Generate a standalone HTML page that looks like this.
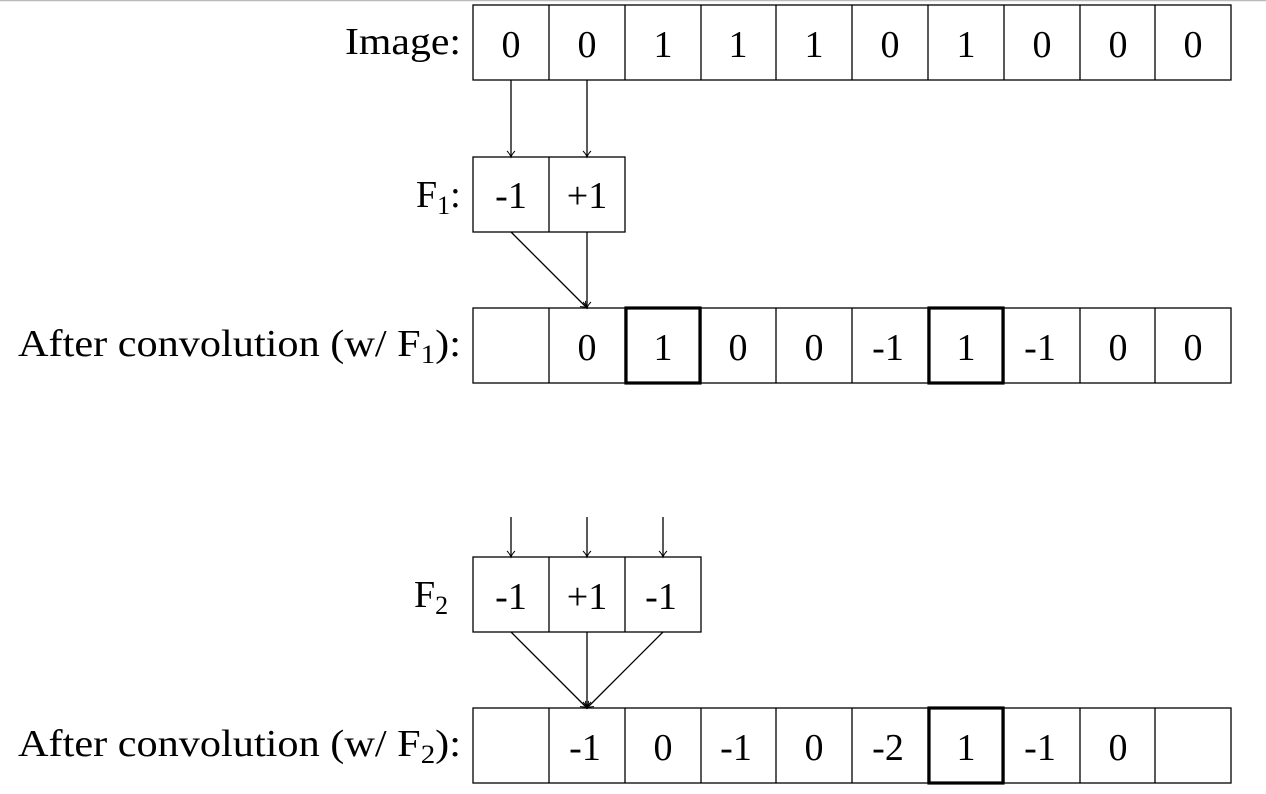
<!DOCTYPE html>
<html><head><style>body{margin:0;background:#fff}svg{display:block}</style></head><body>
<svg width="1266" height="794" xmlns="http://www.w3.org/2000/svg" font-family="Liberation Serif, serif" font-size="38">
<defs><marker id="a" markerWidth="10" markerHeight="10" refX="8" refY="5" orient="auto" markerUnits="userSpaceOnUse"><path d="M2,1 Q5,4 8,5 Q5,6 2,9" fill="none" stroke="#000" stroke-width="1"/></marker></defs>
<line x1="0" y1="0.5" x2="1266" y2="0.5" stroke="#bbb" stroke-width="1.5"/>
<g fill="none" stroke="#000" stroke-width="1.3">
<rect x="473" y="5" width="758" height="75"/>
<path d="M549,5V80M625,5V80M701,5V80M776,5V80M852,5V80M928,5V80M1004,5V80M1080,5V80M1155,5V80"/>
<rect x="473" y="157" width="152" height="75"/><path d="M549,157V232"/>
<rect x="473" y="308" width="758" height="75"/>
<path d="M549,308V383M625,308V383M701,308V383M776,308V383M852,308V383M928,308V383M1004,308V383M1080,308V383M1155,308V383"/>
<rect x="473" y="557" width="228" height="75"/><path d="M549,557V632M625,557V632"/>
<rect x="473" y="708" width="758" height="75"/>
<path d="M549,708V783M625,708V783M701,708V783M776,708V783M852,708V783M928,708V783M1004,708V783M1080,708V783M1155,708V783"/>
<line x1="511" y1="80" x2="511" y2="157" marker-end="url(#a)"/>
<line x1="587" y1="80" x2="587" y2="157" marker-end="url(#a)"/>
<line x1="511" y1="232" x2="587" y2="308" marker-end="url(#a)"/>
<line x1="587" y1="232" x2="587" y2="308" marker-end="url(#a)"/>
<line x1="511" y1="517" x2="511" y2="557" marker-end="url(#a)"/>
<line x1="587" y1="517" x2="587" y2="557" marker-end="url(#a)"/>
<line x1="663" y1="517" x2="663" y2="557" marker-end="url(#a)"/>
<line x1="511" y1="632" x2="587" y2="708" marker-end="url(#a)"/>
<line x1="587" y1="632" x2="587" y2="708" marker-end="url(#a)"/>
<line x1="663" y1="632" x2="587" y2="708" marker-end="url(#a)"/>
</g>
<g fill="none" stroke="#000" stroke-width="3.2">
<rect x="626" y="308" width="74" height="75"/>
<rect x="929" y="308" width="74" height="75"/>
<rect x="929" y="708" width="74" height="75"/>
</g>
<g text-anchor="middle">
<g transform="translate(0,57)"><text x="511">0</text><text x="587">0</text><text x="663">1</text><text x="738">1</text><text x="814">1</text><text x="890">0</text><text x="966">1</text><text x="1042">0</text><text x="1118">0</text><text x="1193">0</text></g>
<g transform="translate(0,208)"><text x="511">-1</text><text x="587">+1</text></g>
<g transform="translate(0,360)"><text x="587">0</text><text x="663">1</text><text x="738">0</text><text x="814">0</text><text x="888">-1</text><text x="966">1</text><text x="1040">-1</text><text x="1118">0</text><text x="1193">0</text></g>
<g transform="translate(0,609)"><text x="511">-1</text><text x="587">+1</text><text x="661">-1</text></g>
<g transform="translate(0,760)"><text x="585">-1</text><text x="663">0</text><text x="736">-1</text><text x="814">0</text><text x="888">-2</text><text x="966">1</text><text x="1040">-1</text><text x="1118">0</text></g>
</g>
<g>
<text x="345" y="54" textLength="116" lengthAdjust="spacingAndGlyphs">Image:</text>
<text x="416" y="207">F<tspan font-size="26" dy="7">1</tspan><tspan dy="-7">:</tspan></text>
<text x="18" y="356" textLength="443" lengthAdjust="spacingAndGlyphs">After convolution (w/ F<tspan font-size="26" dy="7">1</tspan><tspan dy="-7">):</tspan></text>
<text x="414" y="607">F<tspan font-size="26" dy="7">2</tspan></text>
<text x="18" y="756" textLength="443" lengthAdjust="spacingAndGlyphs">After convolution (w/ F<tspan font-size="26" dy="7">2</tspan><tspan dy="-7">):</tspan></text>
</g>
</svg>
</body></html>
